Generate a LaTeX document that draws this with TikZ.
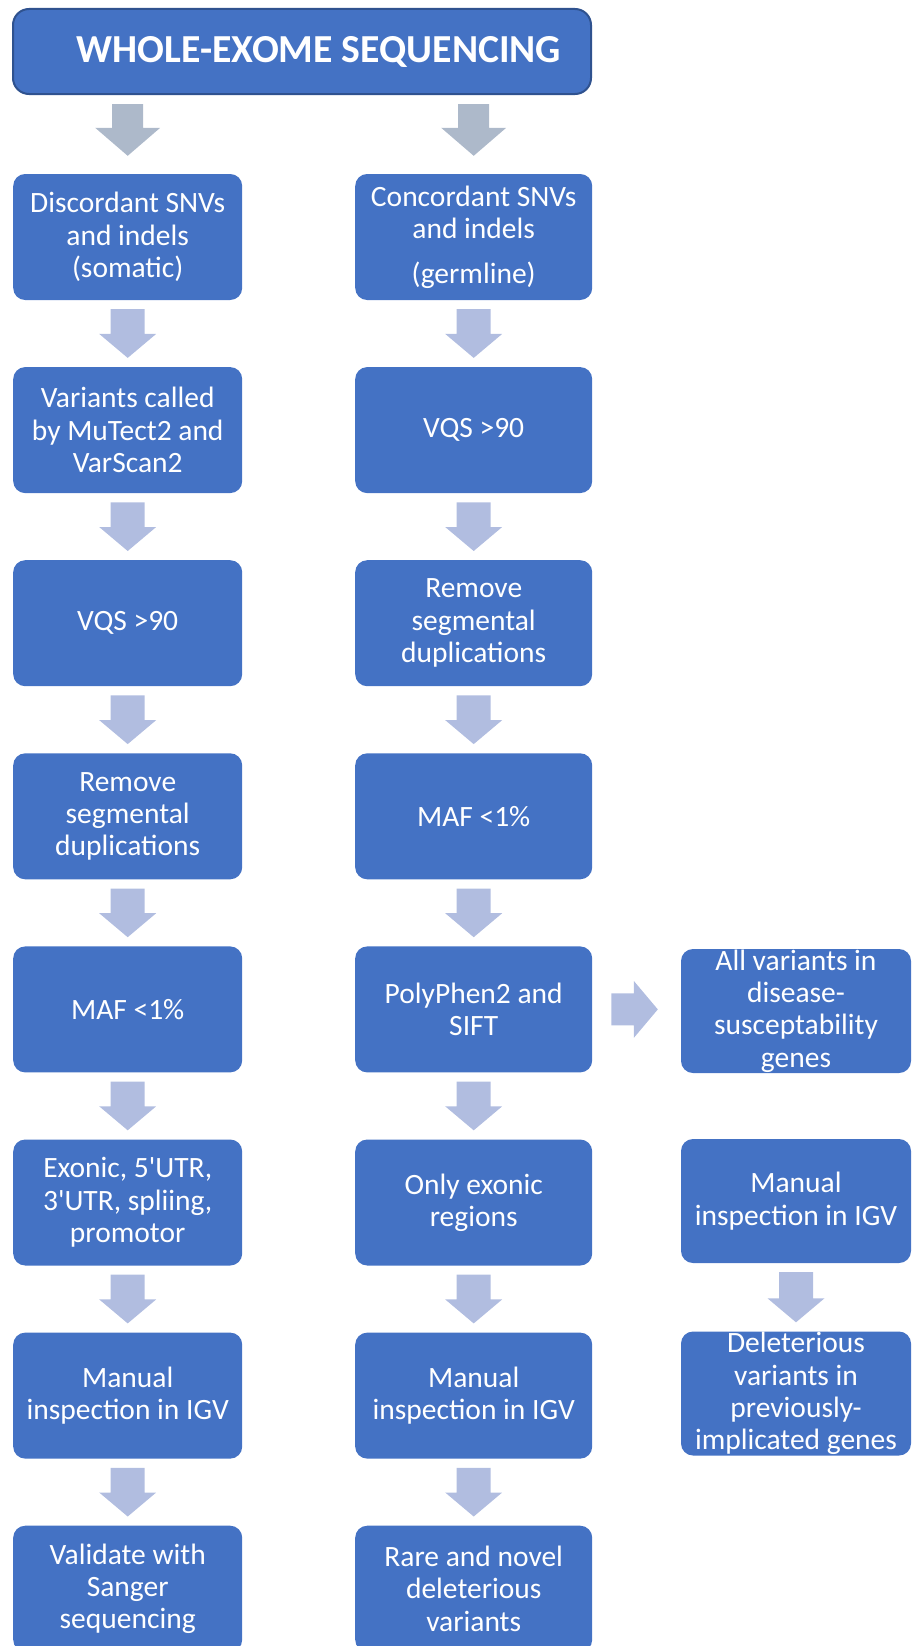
\documentclass[tikz,border=0pt]{standalone}
\usepackage{fontspec}
\setmainfont{Carlito}[Ligatures=TeXOff]
\usetikzlibrary{calc}
\definecolor{boxblue}{HTML}{4472C4}
\definecolor{boxedge}{HTML}{2F528F}
\definecolor{grayarr}{HTML}{ADB9CA}
\definecolor{lavarr}{HTML}{B1BDE0}
\tikzset{
  blk/.style={fill=boxblue, draw=none, rounded corners=12pt, text=white, align=center,
    font=\fontsize{29.5}{32.3}\selectfont, inner sep=0pt, minimum height=126pt},
  lcol/.style={blk, minimum width=229pt},
  rcol/.style={blk, minimum width=237pt},
  tcol/.style={blk, minimum width=230pt, minimum height=124pt},
  titlebox/.style={fill=boxblue, draw=boxedge, line width=2pt, rounded corners=16pt,
    text=white, font=\fontsize{39.7}{42}\selectfont\bfseries,
    minimum width=578pt, minimum height=85pt, inner sep=0pt},
}
\newcommand\topArrow[2]{%
  \fill[grayarr] let \p1=(#1.south), \p2=(#2.north) in
    (\x2-15.5pt,\y1-9pt) -- (\x2+15.5pt,\y1-9pt) -- (\x2+15.5pt,\y2+46pt)
    -- (\x2+32.5pt,\y2+46pt) -- (\x2,\y2+18pt) -- (\x2-32.5pt,\y2+46pt)
    -- (\x2-15.5pt,\y2+46pt) -- cycle;}
\newcommand\stepArrow[2]{%
  \fill[lavarr] let \p1=(#1.south), \p2=(#2.north) in
    (\x2-17pt,\y1-9pt) -- (\x2+17pt,\y1-9pt) -- (\x2+17pt,\y2+33pt)
    -- (\x2+28.5pt,\y2+33pt) -- (\x2,\y2+9pt) -- (\x2-28.5pt,\y2+33pt)
    -- (\x2-17pt,\y2+33pt) -- cycle;}
\begin{document}
\begin{tikzpicture}[x=1pt,y=-1pt]
\useasboundingbox (0,0) rectangle (913,1646);
\clip (0,0) rectangle (913,1646);

\node[titlebox] (title) at (302,51.5) {\hspace*{34pt}WHOLE-EXOME SEQUENCING};

% left column
\node[lcol] (l1) at (127.7,237)    {Discordant SNVs\\and indels\\(somatic)};
\node[lcol] (l2) at (127.7,430.1)  {Variants called\\by MuTect2 and\\VarScan2};
\node[lcol] (l3) at (127.7,623.2)  {VQS >90};
\node[lcol] (l4) at (127.7,816.3)  {Remove\\segmental\\duplications};
\node[lcol] (l5) at (127.7,1009.4) {MAF <1\%};
\node[lcol] (l6) at (127.7,1202.5) {Exonic, 5'UTR,\\3'UTR, spliing,\\promotor};
\node[lcol] (l7) at (127.7,1395.6) {Manual\\inspection in IGV};
\node[lcol] (l8) at (127.7,1588.7) {Validate with\\Sanger\\sequencing};

% right column
\node[rcol] (r1) at (473.7,237)    {Concordant SNVs\\and indels\\[12pt](germline)};
\node[rcol] (r2) at (473.7,430.1)  {VQS >90};
\node[rcol] (r3) at (473.7,623.2)  {Remove\\segmental\\duplications};
\node[rcol] (r4) at (473.7,816.3)  {MAF <1\%};
\node[rcol] (r5) at (473.7,1009.4) {PolyPhen2 and\\SIFT};
\node[rcol] (r6) at (473.7,1202.5) {Only exonic\\regions};
\node[rcol] (r7) at (473.7,1395.6) {Manual\\inspection in IGV};
\node[rcol] (r8) at (473.7,1588.7) {Rare and novel\\deleterious\\variants};

% third column
\node[tcol] (t1) at (796,1011)   {All variants in\\disease-\\susceptability\\genes};
\node[tcol] (t2) at (796,1201)   {Manual\\inspection in IGV};
\node[tcol] (t3) at (796,1393.5) {Deleterious\\variants in\\previously-\\implicated genes};

% arrows
\topArrow{title}{l1}
\topArrow{title}{r1}
\foreach \c in {l,r}{
  \foreach \i [evaluate=\i as \j using int(\i+1)] in {1,...,7}{
    \stepArrow{\c\i}{\c\j}
  }
}
\stepArrow{t2}{t3}
\fill[lavarr] let \p1=(r5.east), \p2=(t1.west) in
  (\x1+19pt,\y1+16pt) -- (\x2-47pt,\y1+16pt) -- (\x2-47pt,\y1+28.5pt)
  -- (\x2-23pt,\y1) -- (\x2-47pt,\y1-28.5pt) -- (\x2-47pt,\y1-16pt)
  -- (\x1+19pt,\y1-16pt) -- cycle;
\end{tikzpicture}
\end{document}
